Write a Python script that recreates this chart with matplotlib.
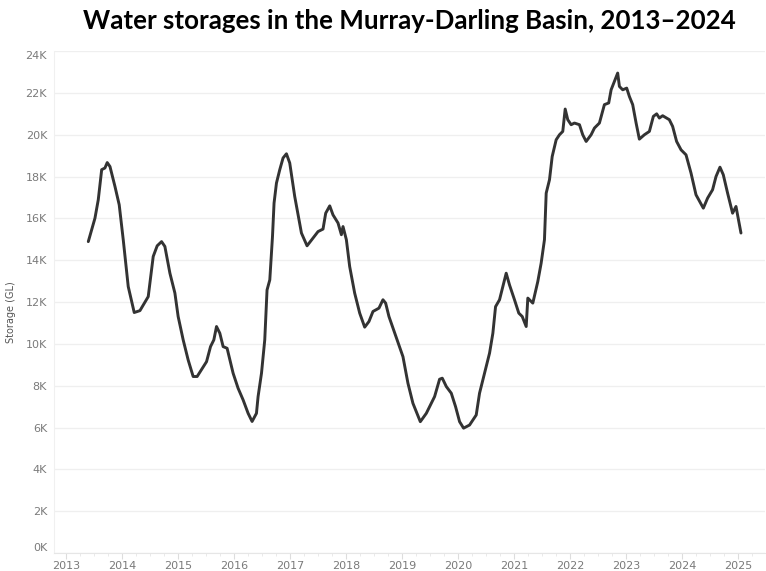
import numpy as np
import matplotlib
matplotlib.use("Agg")
import matplotlib.pyplot as plt
from matplotlib.ticker import FuncFormatter, MultipleLocator

# decimal year and storage (GL)
years = [
    2013.398, 2013.517, 2013.576, 2013.637, 2013.695, 2013.736, 2013.785, 2013.874,
    2013.950, 2014.022, 2014.111, 2014.218, 2014.320, 2014.468, 2014.557, 2014.628,
    2014.706, 2014.765, 2014.855, 2014.944, 2015.002, 2015.092, 2015.181, 2015.270,
    2015.341, 2015.509, 2015.580, 2015.639, 2015.687, 2015.746, 2015.805, 2015.876,
    2015.983, 2016.072, 2016.162, 2016.251, 2016.322, 2016.400, 2016.429, 2016.490,
    2016.548, 2016.589, 2016.638, 2016.686, 2016.714, 2016.757, 2016.816, 2016.875,
    2016.935, 2016.994, 2017.083, 2017.203, 2017.303, 2017.410, 2017.499, 2017.588,
    2017.636, 2017.708, 2017.766, 2017.856, 2017.916, 2017.945, 2018.005, 2018.064,
    2018.153, 2018.243, 2018.332, 2018.408, 2018.480, 2018.587, 2018.658, 2018.706,
    2018.765, 2018.849, 2018.956, 2019.015, 2019.104, 2019.193, 2019.325, 2019.432,
    2019.491, 2019.580, 2019.669, 2019.717, 2019.789, 2019.878, 2019.954, 2020.026,
    2020.097, 2020.204, 2020.323, 2020.382, 2020.471, 2020.561, 2020.620, 2020.668,
    2020.739, 2020.798, 2020.858, 2020.917, 2021.006, 2021.083, 2021.144, 2021.215,
    2021.244, 2021.333, 2021.422, 2021.482, 2021.541, 2021.572, 2021.631, 2021.679,
    2021.750, 2021.809, 2021.868, 2021.911, 2021.957, 2022.017, 2022.076, 2022.166,
    2022.224, 2022.285, 2022.374, 2022.433, 2022.522, 2022.611, 2022.688, 2022.731,
    2022.790, 2022.848, 2022.879, 2022.938, 2023.009, 2023.057, 2023.116, 2023.177,
    2023.235, 2023.325, 2023.414, 2023.485, 2023.544, 2023.592, 2023.651, 2023.770,
    2023.829, 2023.900, 2023.979, 2024.068, 2024.157, 2024.246, 2024.377, 2024.453,
    2024.542, 2024.603, 2024.674, 2024.733, 2024.810, 2024.899, 2024.960, 2025.049,
]
storage = [
    14890, 16010, 16890, 18330, 18410, 18670, 18480, 17530,
    16650, 14980, 12740, 11500, 11590, 12260, 14180, 14690,
    14890, 14660, 13380, 12430, 11310, 10190, 9230, 8440,
    8440, 9150, 9870, 10190, 10830, 10510, 9870, 9790,
    8600, 7880, 7320, 6680, 6290, 6680, 7480, 8600,
    10190, 12580, 13060, 15130, 16730, 17690, 18330, 18890,
    19090, 18650, 17050, 15300, 14690, 15060, 15370, 15490,
    16250, 16600, 16170, 15780, 15220, 15610, 14980, 13700,
    12430, 11470, 10800, 11070, 11550, 11710, 12110, 11950,
    11310, 10670, 9870, 9390, 8120, 7160, 6280, 6680,
    7000, 7480, 8310, 8360, 7960, 7640, 7000, 6280,
    5970, 6120, 6600, 7640, 8600, 9560, 10510, 11780,
    12110, 12740, 13380, 12820, 12110, 11470, 11310, 10830,
    12190, 11950, 12980, 13860, 14980, 17210, 17850, 18960,
    19760, 20000, 20160, 21230, 20720, 20480, 20560, 20480,
    20000, 19680, 20000, 20320, 20560, 21440, 21520, 22150,
    22550, 22950, 22310, 22150, 22230, 21830, 21440, 20560,
    19790, 20000, 20160, 20880, 21000, 20800, 20910, 20720,
    20400, 19680, 19280, 19040, 18170, 17130, 16490, 16970,
    17370, 18000, 18450, 18090, 17210, 16250, 16570, 15300,
]
year_ticks = list(range(2013, 2026))
y_ticks = list(range(0, 24001, 2000))

tick_col = "#7a7a7a"

fig = plt.figure(figsize=(7.66, 5.71), dpi=100)
ax = fig.add_axes([0.0705, 0.0315, 0.9285, 0.879])

ax.plot(years, storage, color="#333333", linewidth=2.1,
        solid_joinstyle="round", solid_capstyle="round")

ax.set_xlim(2012.786, 2025.482)
ax.set_ylim(0, 24000)

ax.set_xticks(year_ticks)
ax.set_xticklabels([str(y) for y in year_ticks])
ax.xaxis.set_minor_locator(MultipleLocator(0.25))
ax.set_yticks(y_ticks)
ax.yaxis.set_major_formatter(FuncFormatter(lambda v, p: f"{int(v/1000)}K"))

ax.grid(axis="y", color="#efefef", linewidth=0.9)
ax.set_axisbelow(True)
for s in ["top", "right"]:
    ax.spines[s].set_visible(False)
ax.spines["left"].set_color("#f0f0f0")
ax.spines["bottom"].set_color("#e6e6e6")

ax.tick_params(axis="y", length=0, pad=5, labelsize=8, labelcolor=tick_col)
ax.tick_params(axis="x", which="major", length=4, color="#dddddd", pad=2,
               labelsize=8, labelcolor=tick_col)
ax.tick_params(axis="x", which="minor", length=2, color="#e6e6e6")

ylabs = ax.get_yticklabels()
ylabs[0].set_va("bottom")
ylabs[-1].set_va("top")

ax.set_ylabel("Storage (GL)", fontsize=7, color="#555555", labelpad=8)
ax.yaxis.set_label_coords(-0.053, 0.48)

fig.text(0.535, 0.964, "Water storages in the Murray-Darling Basin, 2013\u20132024",
         ha="center", va="center", fontsize=18.6, fontweight="bold",
         family=["Lato", "DejaVu Sans"], color="black")

fig.savefig("out.png", dpi=100)
